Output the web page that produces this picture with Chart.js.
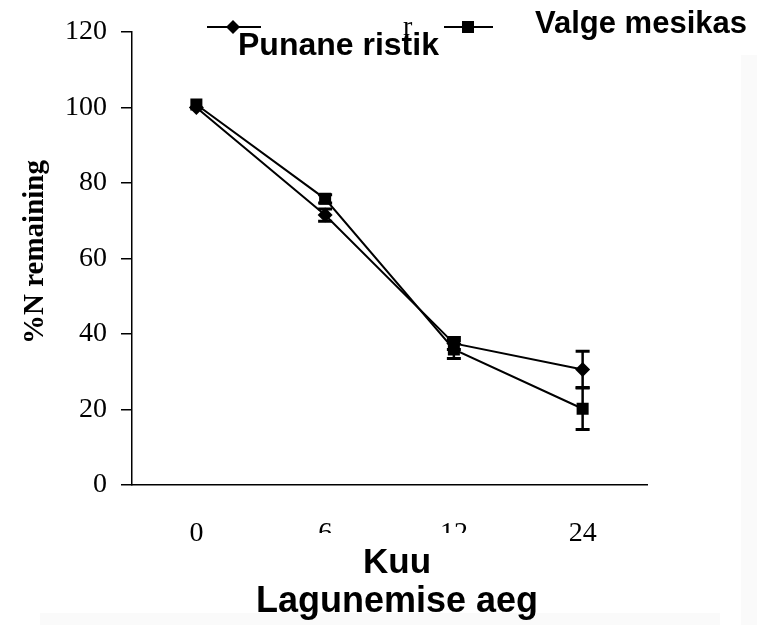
<!DOCTYPE html>
<html>
<head>
<meta charset="utf-8">
<script src="https://cdn.jsdelivr.net/npm/chart.js@4.4.0/dist/chart.umd.min.js"></script>
<style>
  html, body { margin: 0; padding: 0; background: #fff; }
  #wrap { width: 757px; height: 625px; position: relative; }
</style>
</head>
<body>
<div id="wrap"><canvas id="myChart"></canvas></div>
<script>
// andmed
var months = ['0', '6', '12', '24'];
var punane = [100.0, 71.5, 37.5, 30.6];
var punaneErr = [0, 1.6, 1.6, 4.8];
var valge = [100.8, 75.8, 35.9, 20.2];
var valgeErr = [0, 1.1, 2.4, 5.5];
var yTicks = [0, 20, 40, 60, 80, 100, 120];

var serif = '"Liberation Serif", "DejaVu Serif", serif';
var sans = '"Liberation Sans", Arial, sans-serif';

// vearibad
var errorBars = {
    id: 'errorBars',
    afterDatasetsDraw: function (chart) {
        var ctx = chart.ctx;
        var y = chart.scales.y;
        var errs = [punaneErr, valgeErr];
        ctx.save();
        ctx.strokeStyle = '#000';
        chart.data.datasets.forEach(function (ds, di) {
            var meta = chart.getDatasetMeta(di);
            meta.data.forEach(function (pt, i) {
                var e = errs[di][i];
                if (!e) return;
                var top = y.getPixelForValue(ds.data[i] + e);
                var bot = y.getPixelForValue(ds.data[i] - e);
                ctx.lineWidth = 2.5;
                ctx.beginPath();
                ctx.moveTo(pt.x, top);
                ctx.lineTo(pt.x, bot);
                ctx.stroke();
                ctx.lineWidth = 3;
                ctx.beginPath();
                ctx.moveTo(pt.x - 7, top);
                ctx.lineTo(pt.x + 7, top);
                ctx.moveTo(pt.x - 7, bot);
                ctx.lineTo(pt.x + 7, bot);
                ctx.stroke();
            });
        });
        ctx.restore();
    }
};

// legend ja pealkirjad
var extraText = {
    id: 'extraText',
    beforeDraw: function (chart) {
        var ctx = chart.ctx;
        ctx.save();
        ctx.fillStyle = '#fafafa';
        ctx.fillRect(741, 55, 16, 570);
        ctx.fillRect(40, 613, 680, 12);
        ctx.restore();
    },
    afterDraw: function (chart) {
        var ctx = chart.ctx;
        ctx.save();
        ctx.fillStyle = '#000';
        ctx.strokeStyle = '#000';

        // legendi jooned
        ctx.lineWidth = 2;
        ctx.beginPath();
        ctx.moveTo(207, 27); ctx.lineTo(261, 27);
        ctx.moveTo(444, 27); ctx.lineTo(493, 27);
        ctx.stroke();
        ctx.beginPath();
        ctx.moveTo(226, 27); ctx.lineTo(233, 20); ctx.lineTo(240, 27); ctx.lineTo(233, 34);
        ctx.closePath();
        ctx.fill();
        ctx.fillRect(462, 21, 12, 12);

        ctx.textBaseline = 'alphabetic';
        ctx.textAlign = 'left';
        ctx.font = 'bold 32px ' + sans;
        ctx.fillText('Punane ristik', 238, 55);
        ctx.font = 'bold 31px ' + sans;
        ctx.fillText('Valge mesikas', 535, 33);
        ctx.font = '28px ' + serif;
        ctx.fillText('r', 403, 35);

        // pealkirja tekstikast katab osa silte
        ctx.fillStyle = '#fff';
        ctx.fillRect(250, 533, 290, 16);
        ctx.fillStyle = '#000';

        // x telje pealkiri
        ctx.textAlign = 'center';
        ctx.font = 'bold 35px ' + sans;
        ctx.fillText('Kuu', 397, 573);
        ctx.font = 'bold 36px ' + sans;
        ctx.fillText('Lagunemise aeg', 397, 612);

        // y telje pealkiri
        ctx.translate(36, 252);
        ctx.rotate(-Math.PI / 2);
        ctx.textBaseline = 'middle';
        ctx.font = 'bold 29px ' + serif;
        ctx.fillText('%N remaining', 0, 0);
        ctx.restore();
    }
};

var ctx = document.getElementById('myChart');

var myChart = new Chart(ctx, {
    type: 'line',
    data: {
        labels: months,
        datasets: [{
            label: 'Punane ristik',
            data: punane,
            borderColor: '#000',
            backgroundColor: '#000',
            borderWidth: 2,
            pointStyle: 'rectRot',
            pointRadius: 7.5,
            pointBorderWidth: 0,
            tension: 0
        }, {
            label: 'Valge mesikas',
            data: valge,
            borderColor: '#000',
            backgroundColor: '#000',
            borderWidth: 2,
            pointStyle: 'rect',
            pointRadius: 8.5,
            pointBorderWidth: 0,
            tension: 0
        }]
    },
    options: {
        responsive: true,
        maintainAspectRatio: false,
        animation: false,
        layout: {
            padding: { top: 32, right: 110, left: 0, bottom: 0 }
        },
        scales: {
            x: {
                offset: true,
                grid: { display: false },
                border: { display: true, color: '#000', width: 1.5 },
                ticks: {
                    color: '#000',
                    font: { family: serif, size: 28 },
                    padding: 24,
                    maxRotation: 0
                },
                afterFit: function (scale) { scale.height = 140; }
            },
            y: {
                min: 0,
                max: 120,
                afterBuildTicks: function (scale) {
                    scale.ticks = yTicks.map(function (v) { return { value: v }; });
                },
                grid: {
                    drawOnChartArea: false,
                    drawTicks: true,
                    tickLength: 11,
                    color: '#000',
                    lineWidth: 1.5
                },
                border: { display: true, color: '#000', width: 1.5 },
                ticks: {
                    color: '#000',
                    font: { family: serif, size: 28 },
                    padding: 14
                },
                afterFit: function (scale) { scale.width = 132; }
            }
        },
        plugins: {
            legend: { display: false },
            tooltip: { enabled: false }
        }
    },
    plugins: [errorBars, extraText]
});
</script>
</body>
</html>
